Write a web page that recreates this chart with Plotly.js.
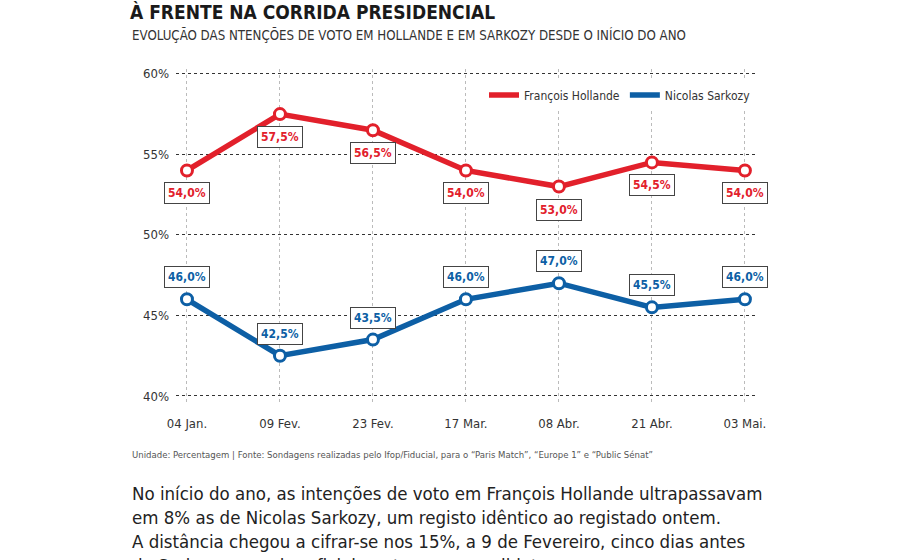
<!DOCTYPE html>
<html>
<head>
<meta charset="utf-8">
<script src="https://cdn.plot.ly/plotly-3.0.1.min.js"></script>
<style>html,body{margin:0;padding:0;background:#fff;}#chart{width:900px;height:560px;}</style>
</head>
<body>
<div id="chart"></div>
<script>
const categories = ["04 Jan.", "09 Fev.", "23 Fev.", "17 Mar.", "08 Abr.", "21 Abr.", "03 Mai."];
const hollande = [54.0, 57.5, 56.5, 54.0, 53.0, 54.5, 54.0];
const sarkozy = [46.0, 42.5, 43.5, 46.0, 47.0, 45.5, 46.0];
const yTicks = [40, 45, 50, 55, 60];
const yTickLabels = ["40%", "45%", "50%", "55%", "60%"];
const titleText = "À FRENTE NA CORRIDA PRESIDENCIAL";
const subtitleText = "EVOLUÇÃO DAS NTENÇÕES DE VOTO EM HOLLANDE E EM SARKOZY DESDE O INÍCIO DO ANO";
const sourceText = "Unidade: Percentagem | Fonte: Sondagens realizadas pelo Ifop/Fiducial, para o “Paris Match”, “Europe 1” e “Public Sénat”";
const bodyLines = [
  "No início do ano, as intenções de voto em François Hollande ultrapassavam",
  "em 8% as de Nicolas Sarkozy, um registo idêntico ao registado ontem.",
  "A distância chegou a cifrar-se nos 15%, a 9 de Fevereiro, cinco dias antes",
  "de Sarkozy anunciar oficialmente a sua candidatura."
];

const RED = "#e2202b";
const BLUE = "#0d5fa5";
const FONT = "'Liberation Sans Narrow', 'DejaVu Sans Condensed', 'Roboto', sans-serif";

// plot-area geometry (pixels)
const L = 176, R = 757, T = 69, B = 404, W = 900, H = 560;
const px = x => (x - L) / (R - L);
const py = y => (B - y) / (B - T);
const fmt = v => v.toFixed(1).replace('.', ',') + '%';

const traces = [
  {x: categories, y: hollande, mode: 'lines', name: 'François Hollande',
   line: {color: RED, width: 5.5}, hoverinfo: 'skip'},
  {x: categories, y: sarkozy, mode: 'lines', name: 'Nicolas Sarkozy',
   line: {color: BLUE, width: 5.5}, hoverinfo: 'skip'},
  {x: categories, y: hollande, mode: 'markers', showlegend: false,
   marker: {color: '#fff', size: 11, line: {color: RED, width: 3}}},
  {x: categories, y: sarkozy, mode: 'markers', showlegend: false,
   marker: {color: '#fff', size: 11, line: {color: BLUE, width: 3}}}
];

const annotations = [];
hollande.forEach((v, i) => annotations.push({
  x: categories[i], y: v, xref: 'x', yref: 'y', text: '<b>' + fmt(v) + '</b>',
  showarrow: false, yshift: -23, bgcolor: '#fff', bordercolor: '#444', borderwidth: 1, borderpad: 3,
  font: {family: FONT, size: 12, color: RED}
}));
sarkozy.forEach((v, i) => annotations.push({
  x: categories[i], y: v, xref: 'x', yref: 'y', text: '<b>' + fmt(v) + '</b>',
  showarrow: false, yshift: 22, bgcolor: '#fff', bordercolor: '#444', borderwidth: 1, borderpad: 3,
  font: {family: FONT, size: 12, color: BLUE}
}));
annotations.push({
  xref: 'paper', yref: 'paper', x: px(130), y: py(35), xanchor: 'left', yanchor: 'middle',
  text: subtitleText, showarrow: false, font: {family: FONT, size: 13.2, color: '#333'}
});
annotations.push({
  xref: 'paper', yref: 'paper', x: px(130), y: py(455), xanchor: 'left', yanchor: 'middle',
  text: sourceText, showarrow: false, font: {family: FONT, size: 9.5, color: '#555'}
});
bodyLines.forEach((t, i) => annotations.push({
  xref: 'paper', yref: 'paper', x: px(130), y: py(493 + i * 24), xanchor: 'left', yanchor: 'middle',
  text: t, showarrow: false, font: {family: FONT, size: 18.5, color: '#222'}
}));

const layout = {
  width: W, height: H,
  margin: {l: L, r: W - R, t: T, b: H - B, pad: 0},
  paper_bgcolor: '#fff', plot_bgcolor: '#fff',
  title: {text: '<b>' + titleText + '</b>', x: 130 / W, xanchor: 'left', xref: 'container',
          y: 1 - 12 / H, yanchor: 'middle', yref: 'container',
          font: {family: FONT, size: 19, color: '#1a1a1a'}},
  showlegend: true,
  legend: {orientation: 'h', x: px(484), y: py(95), xanchor: 'left', yanchor: 'middle',
           bgcolor: '#fff', font: {family: FONT, size: 12, color: '#333'}, tracegroupgap: 0},
  xaxis: {type: 'category', range: [-0.118, 6.13], showgrid: true, gridcolor: '#bbb', griddash: 'dot',
          gridwidth: 1, zeroline: false, showline: false, ticks: '', ticklabelstandoff: 10,
          tickfont: {family: FONT, size: 13, color: '#333'}, fixedrange: true},
  yaxis: {range: [39.5, 60.3], tickvals: yTicks, ticktext: yTickLabels, showgrid: true,
          gridcolor: '#333', griddash: '3px,3px', gridwidth: 1, zeroline: false, showline: false,
          ticks: '', ticklabelstandoff: 6,
          tickfont: {family: FONT, size: 13, color: '#333'}, fixedrange: true},
  annotations: annotations
};

Plotly.newPlot('chart', traces, layout, {displayModeBar: false, staticPlot: true});
</script>
</body>
</html>
